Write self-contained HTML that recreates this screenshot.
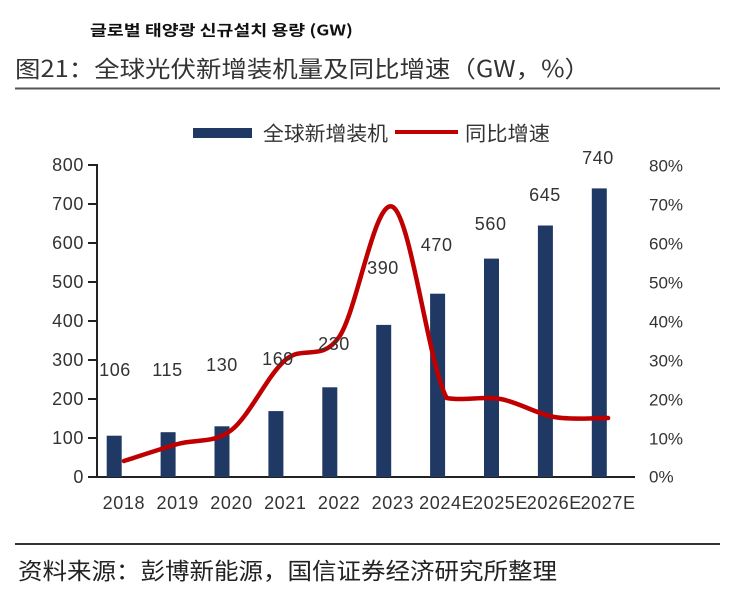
<!DOCTYPE html>
<html><head><meta charset="utf-8"><style>
html,body{margin:0;padding:0;background:#fff;}
svg{display:block;}
text{font-family:"Liberation Sans","Noto Sans CJK SC",sans-serif;}
.cjk{font-family:"Noto Sans CJK SC","WenQuanYi Zen Hei",sans-serif;}
.num{font-size:18px;fill:#333;letter-spacing:0.6px;}
</style></head><body>
<svg width="743" height="592" viewBox="0 0 743 592" xmlns="http://www.w3.org/2000/svg">
<rect width="743" height="592" fill="#fff"/>
<text x="90" y="30" dominant-baseline="central" style="font-family:'Noto Sans CJK KR','NanumGothic',sans-serif;font-weight:bold;font-size:15px" fill="#111" textLength="263" lengthAdjust="spacingAndGlyphs">글로벌 태양광 신규설치 용량 (GW)</text>
<text class="cjk" x="15" y="67" dominant-baseline="central" font-size="23" fill="#333" textLength="575" lengthAdjust="spacingAndGlyphs">图21：全球光伏新增装机量及同比增速（GW，%）</text>
<line x1="15" y1="88.5" x2="720" y2="88.5" stroke="#555" stroke-width="2"/>

<!-- legend -->
<rect x="193" y="128" width="59" height="10" fill="#1f3864"/>
<text class="cjk" x="263" y="132" dominant-baseline="central" font-size="20" fill="#333" textLength="125" lengthAdjust="spacingAndGlyphs">全球新增装机</text>
<line x1="395" y1="132" x2="458" y2="132" stroke="#c00000" stroke-width="4"/>
<text class="cjk" x="465" y="132" dominant-baseline="central" font-size="20" fill="#333" textLength="85" lengthAdjust="spacingAndGlyphs">同比增速</text>

<!-- left axis -->
<g stroke="#222" stroke-width="2">
<line x1="97" y1="164" x2="97" y2="478"/>
<line x1="88" y1="165" x2="97" y2="165"/>
<line x1="88" y1="204" x2="97" y2="204"/>
<line x1="88" y1="243" x2="97" y2="243"/>
<line x1="88" y1="282" x2="97" y2="282"/>
<line x1="88" y1="321" x2="97" y2="321"/>
<line x1="88" y1="360" x2="97" y2="360"/>
<line x1="88" y1="399" x2="97" y2="399"/>
<line x1="88" y1="438" x2="97" y2="438"/>
<line x1="88" y1="477" x2="635" y2="477"/>
</g>
<g>
<text class="num" x="84" y="165" text-anchor="end" dominant-baseline="central">800</text>
<text class="num" x="84" y="204" text-anchor="end" dominant-baseline="central">700</text>
<text class="num" x="84" y="243" text-anchor="end" dominant-baseline="central">600</text>
<text class="num" x="84" y="282" text-anchor="end" dominant-baseline="central">500</text>
<text class="num" x="84" y="321" text-anchor="end" dominant-baseline="central">400</text>
<text class="num" x="84" y="360" text-anchor="end" dominant-baseline="central">300</text>
<text class="num" x="84" y="399" text-anchor="end" dominant-baseline="central">200</text>
<text class="num" x="84" y="438" text-anchor="end" dominant-baseline="central">100</text>
<text class="num" x="84" y="477" text-anchor="end" dominant-baseline="central">0</text>
</g>

<!-- right axis labels -->
<g font-size="17" fill="#333">
<text x="649" y="166" dominant-baseline="central">80%</text>
<text x="649" y="205" dominant-baseline="central">70%</text>
<text x="649" y="244" dominant-baseline="central">60%</text>
<text x="649" y="283" dominant-baseline="central">50%</text>
<text x="649" y="322" dominant-baseline="central">40%</text>
<text x="649" y="361" dominant-baseline="central">30%</text>
<text x="649" y="400" dominant-baseline="central">20%</text>
<text x="649" y="439" dominant-baseline="central">10%</text>
<text x="649" y="477" dominant-baseline="central">0%</text>
</g>

<!-- bars -->
<g fill="#1f3864">
<rect x="106.7" y="435.7" width="15" height="41.3"/>
<rect x="160.6" y="432.2" width="15" height="44.8"/>
<rect x="214.5" y="426.3" width="15" height="50.7"/>
<rect x="268.4" y="411.1" width="15" height="65.9"/>
<rect x="322.3" y="387.3" width="15" height="89.7"/>
<rect x="376.2" y="324.9" width="15" height="152.1"/>
<rect x="430.1" y="293.7" width="15" height="183.3"/>
<rect x="484.0" y="258.6" width="15" height="218.4"/>
<rect x="537.9" y="225.5" width="15" height="251.5"/>
<rect x="591.8" y="188.4" width="15" height="288.6"/>
</g>

<!-- x labels -->
<g>
<text class="num" x="123.9" y="503" text-anchor="middle" dominant-baseline="central">2018</text>
<text class="num" x="177.7" y="503" text-anchor="middle" dominant-baseline="central">2019</text>
<text class="num" x="231.5" y="503" text-anchor="middle" dominant-baseline="central">2020</text>
<text class="num" x="285.3" y="503" text-anchor="middle" dominant-baseline="central">2021</text>
<text class="num" x="339.1" y="503" text-anchor="middle" dominant-baseline="central">2022</text>
<text class="num" x="392.9" y="503" text-anchor="middle" dominant-baseline="central">2023</text>
<text class="num" x="446.7" y="503" text-anchor="middle" dominant-baseline="central" letter-spacing="0">2024E</text>
<text class="num" x="500.5" y="503" text-anchor="middle" dominant-baseline="central" letter-spacing="0">2025E</text>
<text class="num" x="554.3" y="503" text-anchor="middle" dominant-baseline="central" letter-spacing="0">2026E</text>
<text class="num" x="608.1" y="503" text-anchor="middle" dominant-baseline="central" letter-spacing="0">2027E</text>
</g>

<!-- line -->
<path d="M123.9,461 C132.87,458.17 159.77,449.17 177.7,444 C195.63,438.83 213.57,444 231.5,430 C249.43,416 267.37,375.5 285.3,360 C303.23,344.5 321.17,362.5 339.1,337 C357.03,311.5 374.97,196.83 392.9,207 C410.83,217.17 428.77,366 446.7,398 C464.63,401.17 482.57,395.83 500.5,399 C518.43,402.17 536.37,413.83 554.3,417 C572.23,420.17 599.13,417.83 608.1,418" fill="none" stroke="#c00000" stroke-width="4.5" stroke-linecap="round" stroke-linejoin="round"/>

<!-- data labels -->
<g>
<text class="num" x="115" y="370" text-anchor="middle" dominant-baseline="central">106</text>
<text class="num" x="167.5" y="370" text-anchor="middle" dominant-baseline="central">115</text>
<text class="num" x="222" y="365" text-anchor="middle" dominant-baseline="central">130</text>
<text class="num" x="278" y="359" text-anchor="middle" dominant-baseline="central">169</text>
<text class="num" x="334" y="344" text-anchor="middle" dominant-baseline="central">230</text>
<text class="num" x="383" y="268" text-anchor="middle" dominant-baseline="central">390</text>
<text class="num" x="436.7" y="245" text-anchor="middle" dominant-baseline="central">470</text>
<text class="num" x="490.7" y="224" text-anchor="middle" dominant-baseline="central">560</text>
<text class="num" x="545" y="195" text-anchor="middle" dominant-baseline="central">645</text>
<text class="num" x="598" y="158" text-anchor="middle" dominant-baseline="central">740</text>
</g>

<!-- footer -->
<line x1="15" y1="544" x2="720" y2="544" stroke="#333" stroke-width="2"/>
<text class="cjk" x="18" y="569" dominant-baseline="central" font-size="23" fill="#222" textLength="539" lengthAdjust="spacingAndGlyphs">资料来源：彭博新能源，国信证券经济研究所整理</text>
</svg>
</body></html>
